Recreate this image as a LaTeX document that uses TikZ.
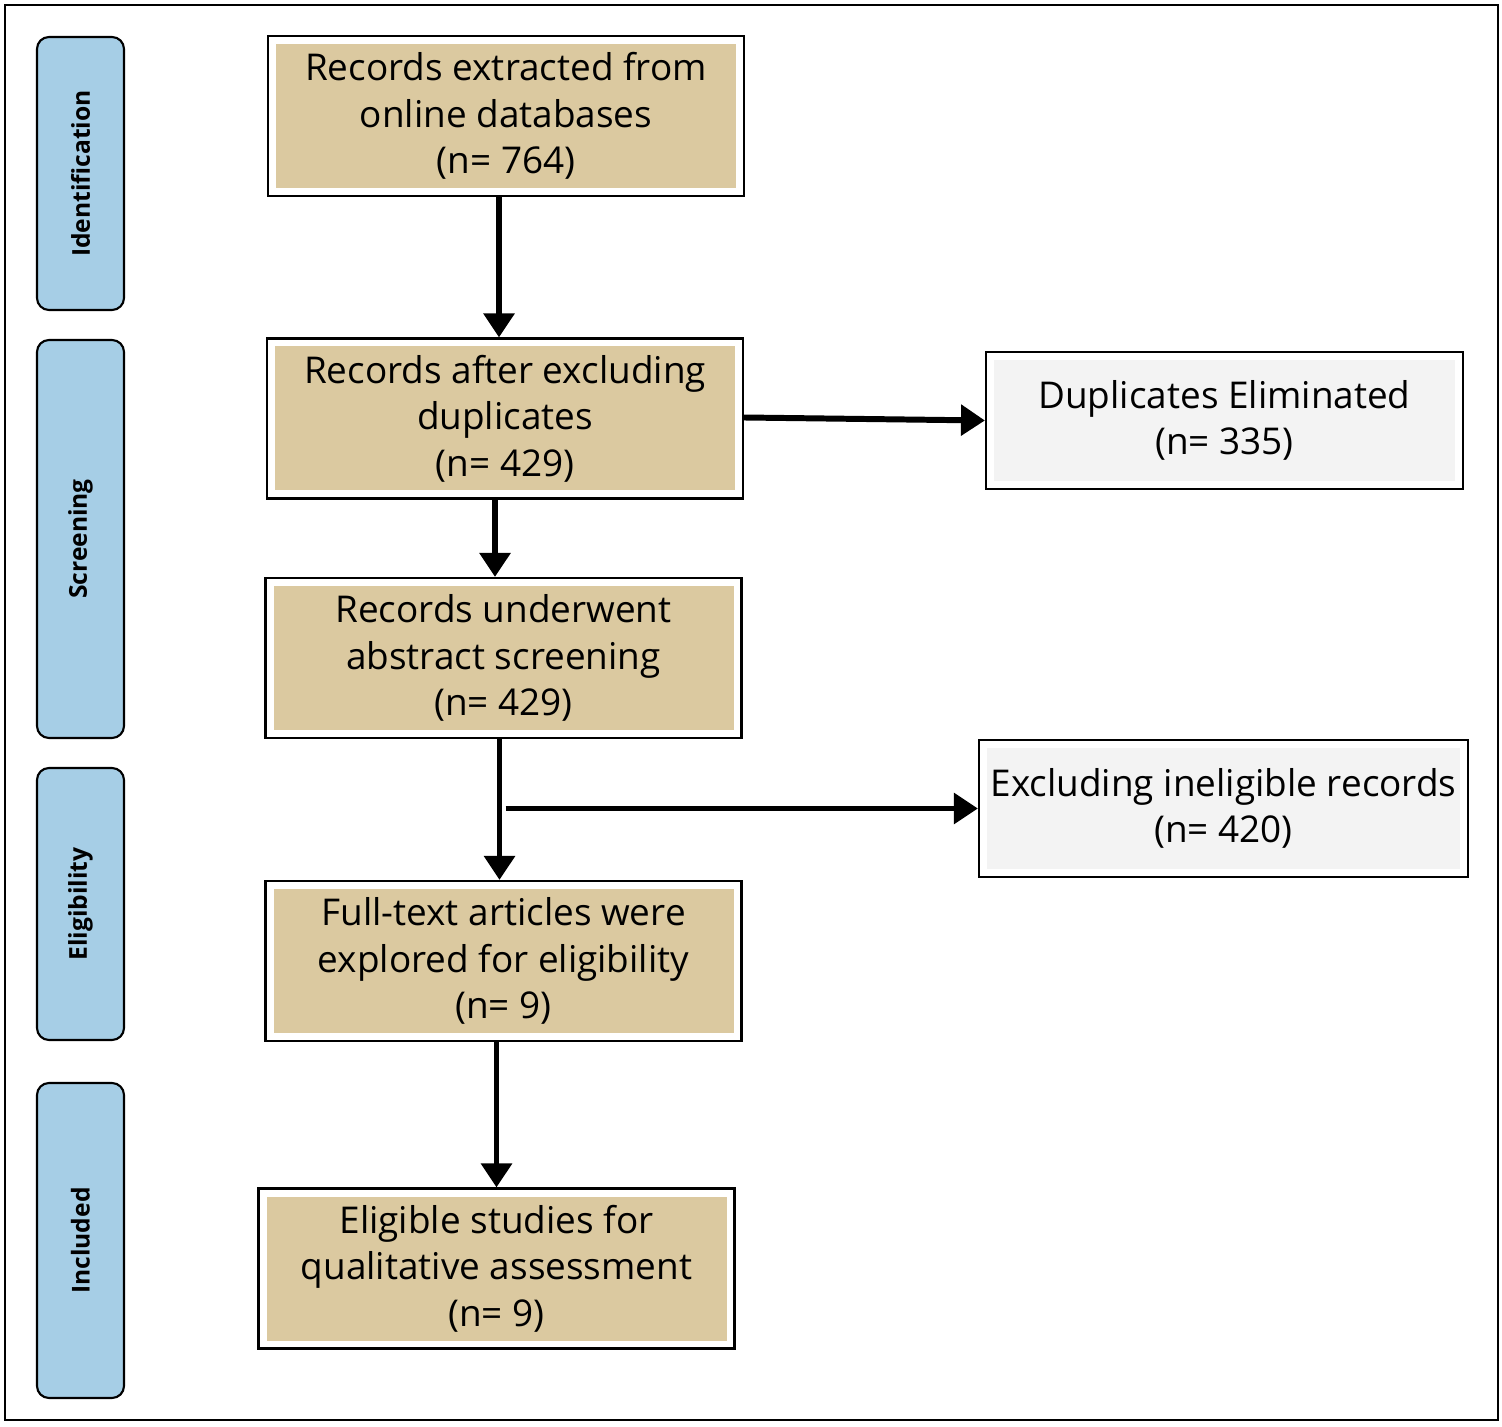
\documentclass[tikz,border=0pt]{standalone}
\usepackage{fontspec}
\setmainfont{Open Sans}
\usetikzlibrary{arrows.meta,positioning,calc}
\definecolor{tanbox}{HTML}{DBC9A0}
\definecolor{greybox}{HTML}{F3F3F3}
\definecolor{phaseblue}{HTML}{A6CEE6}
\begin{document}
\begin{tikzpicture}
        \tikzset{
            step/.style={draw=black, line width=0.6pt, fill=white, minimum width=4.76cm, minimum height=1.6cm,
                align=center, font=\fontsize{10.5}{13.2}\selectfont,
                path picture={\fill[#1] ([shift={(0.08,-0.08)}]path picture bounding box.north west)
                    rectangle ([shift={(-0.08,0.08)}]path picture bounding box.south east);}},
            side/.style={step=greybox, minimum height=1.37cm},
            phase/.style={draw=black, line width=0.6pt, fill=phaseblue, rounded corners=0.12cm,
                minimum width=0.87cm, font=\fontsize{7}{8}\selectfont\bfseries},
            arr/.style={line width=1.7pt, -{Triangle[length=0.24cm,width=0.3cm]}}
        }
        % Frame
        \draw[line width=0.6pt] (0.05,0.06) rectangle (14.98,14.21);
        \useasboundingbox (0,0) rectangle (15.02,14.26);

        % Phase labels
        \node[phase, minimum height=2.73cm] (idf) at (0.805,12.525) {};
        \node[rotate=90, font=\fontsize{7}{8}\selectfont\bfseries] at (idf) {Identification};
        \node[phase, minimum height=3.98cm] (scr) at (0.805,8.87) {};
        \node[rotate=90, font=\fontsize{7}{8}\selectfont\bfseries] at (scr) {Screening};
        \node[phase, minimum height=2.72cm] (elg) at (0.805,5.22) {};
        \node[rotate=90, font=\fontsize{7}{8}\selectfont\bfseries] at (elg) {Eligibility};
        \node[phase, minimum height=3.15cm] (inc) at (0.805,1.855) {};
        \node[rotate=90, font=\fontsize{7}{8}\selectfont\bfseries] at (inc) {Included};

        % Main steps
        \node[step=tanbox] (b1) at (5.06,13.10) {Records extracted from\\online databases\\(n= 764)};
        \node[step=tanbox] (b2) at (5.05,10.075) {Records after excluding\\duplicates\\(n= 429)};
        \node[step=tanbox] (b3) at (5.035,7.68) {Records underwent\\abstract screening\\(n= 429)};
        \node[step=tanbox] (b4) at (5.035,4.65) {Full-text articles were\\explored for eligibility\\(n= 9)};
        \node[step=tanbox] (b5) at (4.965,1.575) {Eligible studies for\\qualitative assessment\\(n= 9)};

        % Exclusions
        \node[side, minimum width=4.77cm] (r1) at (12.245,10.055) {Duplicates Eliminated\\(n= 335)};
        \node[side, minimum width=4.77cm] (r2) at (12.235,6.175) {Excluding ineligible records\\(n= 420)};

        % Arrows
        \draw[arr] ([xshift=-0.07cm]b1.south) -- ([xshift=-0.07cm]b1.south |- b2.north);
        \draw[arr] ([xshift=-0.1cm]b2.south) -- ([xshift=-0.1cm]b2.south |- b3.north);
        \draw[arr] ([xshift=-0.04cm]b3.south) -- ([xshift=-0.04cm]b3.south |- b4.north);
        \coordinate (split) at ([xshift=0.02cm]b3.south |- r2.west);
        \draw[arr] (split) -- (r2.west);
        \draw[arr] ([xshift=-0.07cm]b4.south) -- ([xshift=-0.07cm]b4.south |- b5.north);
        \draw[arr] ([yshift=0.01cm]b2.east) -- (r1.west);
\end{tikzpicture}
\end{document}
